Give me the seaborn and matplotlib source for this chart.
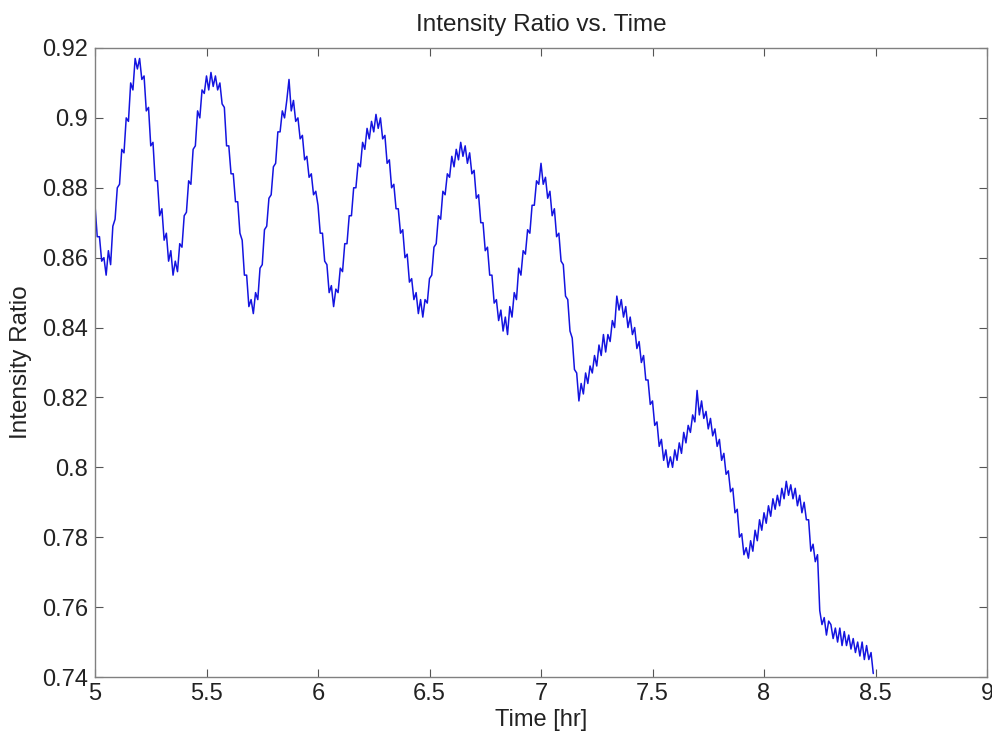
import numpy as np
import pandas as pd
import matplotlib
matplotlib.use("Agg")
import matplotlib.pyplot as plt
import seaborn as sns

# Sampling grid (hours), one reading every 0.01 hr from 5.00 to 8.49
t_start = 5.00
t_step = 0.01

# Intensity ratio, rows of 0.1 hr (10 readings each)
ratio_rows = [
    [.875, .866, .866, .859, .860, .855, .862, .858, .869, .871],  # 5.0
    [.880, .881, .891, .890, .900, .899, .910, .908, .917, .914],  # 5.1
    [.917, .911, .912, .902, .903, .892, .893, .882, .882, .872],  # 5.2
    [.874, .865, .867, .859, .862, .855, .859, .856, .864, .863],  # 5.3
    [.872, .873, .882, .881, .891, .892, .902, .900, .908, .907],  # 5.4
    [.912, .908, .913, .909, .912, .908, .910, .904, .903, .892],  # 5.5
    [.892, .884, .884, .876, .876, .867, .865, .855, .855, .846],  # 5.6
    [.848, .844, .850, .848, .857, .858, .868, .869, .877, .878],  # 5.7
    [.886, .887, .896, .896, .902, .900, .905, .911, .902, .905],  # 5.8
    [.899, .900, .894, .895, .888, .889, .883, .884, .878, .879],  # 5.9
    [.875, .867, .867, .859, .858, .850, .852, .846, .851, .850],  # 6.0
    [.857, .856, .864, .864, .872, .872, .880, .880, .887, .886],  # 6.1
    [.893, .891, .897, .894, .899, .896, .901, .897, .900, .894],  # 6.2
    [.895, .887, .888, .880, .881, .874, .874, .867, .868, .860],  # 6.3
    [.861, .853, .854, .848, .850, .844, .848, .843, .848, .847],  # 6.4
    [.854, .855, .863, .864, .872, .871, .879, .878, .884, .883],  # 6.5
    [.889, .886, .891, .888, .893, .889, .892, .887, .890, .884],  # 6.6
    [.885, .877, .878, .870, .870, .862, .863, .855, .855, .847],  # 6.7
    [.848, .842, .845, .839, .843, .838, .846, .843, .850, .848],  # 6.8
    [.857, .855, .862, .861, .868, .867, .875, .875, .882, .881],  # 6.9
    [.887, .881, .883, .877, .879, .872, .874, .866, .867, .859],  # 7.0
    [.858, .849, .848, .839, .837, .828, .827, .819, .824, .821],  # 7.1
    [.827, .824, .829, .827, .832, .829, .835, .832, .838, .833],  # 7.2
    [.838, .836, .842, .840, .849, .845, .848, .843, .846, .840],  # 7.3
    [.843, .838, .840, .834, .836, .830, .832, .825, .825, .818],  # 7.4
    [.819, .812, .813, .806, .808, .802, .805, .800, .803, .800],  # 7.5
    [.805, .802, .807, .804, .810, .807, .812, .810, .815, .813],  # 7.6
    [.822, .815, .819, .814, .816, .811, .814, .809, .811, .806],  # 7.7
    [.808, .802, .804, .798, .799, .793, .794, .787, .788, .780],  # 7.8
    [.781, .775, .777, .774, .779, .776, .782, .779, .785, .782],  # 7.9
    [.787, .784, .789, .786, .791, .788, .792, .789, .794, .791],  # 8.0
    [.796, .792, .795, .791, .794, .789, .792, .787, .790, .785],  # 8.1
    [.785, .776, .778, .773, .775, .759, .755, .757, .752, .756],  # 8.2
    [.755, .751, .754, .750, .754, .749, .753, .749, .752, .748],  # 8.3
    [.751, .747, .750, .746, .750, .745, .749, .745, .747, .741],  # 8.4
]

x_ticks = [5, 5.5, 6, 6.5, 7, 7.5, 8, 8.5, 9]
x_tick_labels = ["5", "5.5", "6", "6.5", "7", "7.5", "8", "8.5", "9"]
y_ticks = [0.74, 0.76, 0.78, 0.80, 0.82, 0.84, 0.86, 0.88, 0.90, 0.92]
y_tick_labels = ["0.74", "0.76", "0.78", "0.8", "0.82", "0.84", "0.86", "0.88", "0.9", "0.92"]

ratio = [v for row in ratio_rows for v in row]
time = [round(t_start + i * t_step, 3) for i in range(len(ratio))]
df = pd.DataFrame({"Time": time, "Ratio": ratio})

sns.set_style("white")
plt.rcParams["font.family"] = ["Liberation Sans", "DejaVu Sans"]
plt.rcParams["xtick.direction"] = "in"
plt.rcParams["ytick.direction"] = "in"

fig = plt.figure(figsize=(9.92, 7.36), dpi=100)
ax = fig.add_axes([95 / 992, 1 - 677 / 736, (987 - 95) / 992, (677 - 48) / 736])

sns.lineplot(data=df, x="Time", y="Ratio", ax=ax, color="#1414e0", linewidth=1.1)

ax.set_xlim(5, 9)
ax.set_ylim(0.74, 0.92)
ax.set_xticks(x_ticks)
ax.set_xticklabels(x_tick_labels)
ax.set_yticks(y_ticks)
ax.set_yticklabels(y_tick_labels)
ax.tick_params(axis="both", which="both", direction="in", length=6, width=0.8,
               color="#555555", labelsize=17, labelcolor="#222222",
               top=True, right=True, bottom=True, left=True)
ax.tick_params(axis="x", pad=4)
ax.tick_params(axis="y", pad=5)
for s in ax.spines.values():
    s.set_visible(True)
    s.set_color("#808080")
    s.set_linewidth(1.0)

ax.set_title("Intensity Ratio vs. Time", fontsize=17.5, color="#222222", pad=12)
ax.set_xlabel("Time [hr]", fontsize=17, color="#222222", labelpad=3)
ax.set_ylabel("Intensity Ratio", fontsize=17.5, color="#222222", labelpad=7)

fig.savefig("out.png", dpi=100)
